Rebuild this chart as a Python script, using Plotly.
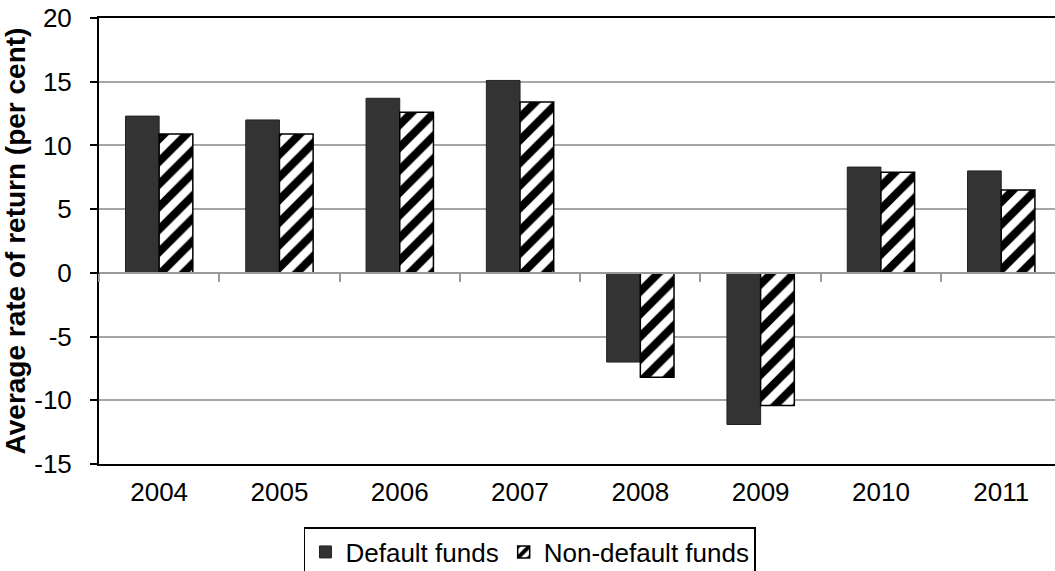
import plotly.graph_objects as go

years = ["2004", "2005", "2006", "2007", "2008", "2009", "2010", "2011"]
default_funds = [12.3, 12.0, 13.7, 15.1, -7.0, -11.9, 8.3, 8.0]
non_default_funds = [10.9, 10.9, 12.6, 13.4, -8.2, -10.4, 7.9, 6.5]
y_ticks = [-15, -10, -5, 0, 5, 10, 15, 20]
y_tick_text = ["-15", "-10", "-5", "0", "5", "10", "15", "20"]

FONT = "Liberation Sans, Arial, sans-serif"
xr = [-0.5, 7.447]

fig = go.Figure()
fig.add_trace(go.Bar(
    x=years, y=default_funds, name="Default funds",
    marker=dict(color="#333333", line=dict(color="#222222", width=1)),
))
fig.add_trace(go.Bar(
    x=years, y=non_default_funds, name="Non-default funds",
    marker=dict(color="white",
                pattern=dict(shape="/", fgcolor="black", bgcolor="white",
                             fgopacity=1, fillmode="replace",
                             size=16, solidity=0.5),
                line=dict(color="black", width=1.5)),
))
# helper trace so the zero-line category axis (with boundary ticks) is drawn
fig.add_trace(go.Scatter(
    x=years, y=[None] * len(years), xaxis="x2", yaxis="y",
    mode="markers", showlegend=False, hoverinfo="skip",
))

fig.update_layout(
    width=1055, height=571,
    margin=dict(l=99, r=0, t=18, b=107, autoexpand=False),
    paper_bgcolor="white", plot_bgcolor="white",
    font=dict(family=FONT, size=26, color="black"),
    barmode="group", bargap=0.44, bargroupgap=0,
    showlegend=True,
    legend=dict(orientation="h", x=0.4508, xanchor="center",
                y=-0.1413, yanchor="top",
                bordercolor="black", borderwidth=1.5, bgcolor="white",
                font=dict(family=FONT, size=26, color="black"),
                traceorder="normal"),
    xaxis=dict(type="category", categoryorder="array", categoryarray=years,
               range=xr, showline=True, mirror=True, linecolor="black",
               linewidth=2, ticks="", showgrid=False, zeroline=False,
               tickfont=dict(family=FONT, size=26, color="black"),
               ticklabelstandoff=4),
    xaxis2=dict(type="category", categoryorder="array", categoryarray=years,
                range=xr, overlaying="x", anchor="free",
                position=15 / 35, showline=True, linecolor="#9a9a9a",
                linewidth=2, ticks="outside", tickson="boundaries",
                ticklen=8, tickwidth=2, tickcolor="#9a9a9a",
                showticklabels=False, showgrid=False, zeroline=False),
    yaxis=dict(range=[-15, 20], tickvals=y_ticks, ticktext=y_tick_text,
               showgrid=True, gridcolor="#a6a6a6", gridwidth=2,
               zeroline=False, showline=True, linecolor="black", linewidth=2,
               ticks="outside", ticklen=7, tickwidth=2, tickcolor="black",
               tickfont=dict(family=FONT, size=26, color="black"),
               ticklabelstandoff=13,
               title=dict(text="<b>Average rate of return (per cent)</b>",
                          font=dict(family=FONT, size=28, color="black"),
                          standoff=4)),
)

fig.write_html("out.html",
               config={"displayModeBar": False},
               post_script="document.body.style.margin='0';"
                           "document.body.style.overflow='hidden';")
